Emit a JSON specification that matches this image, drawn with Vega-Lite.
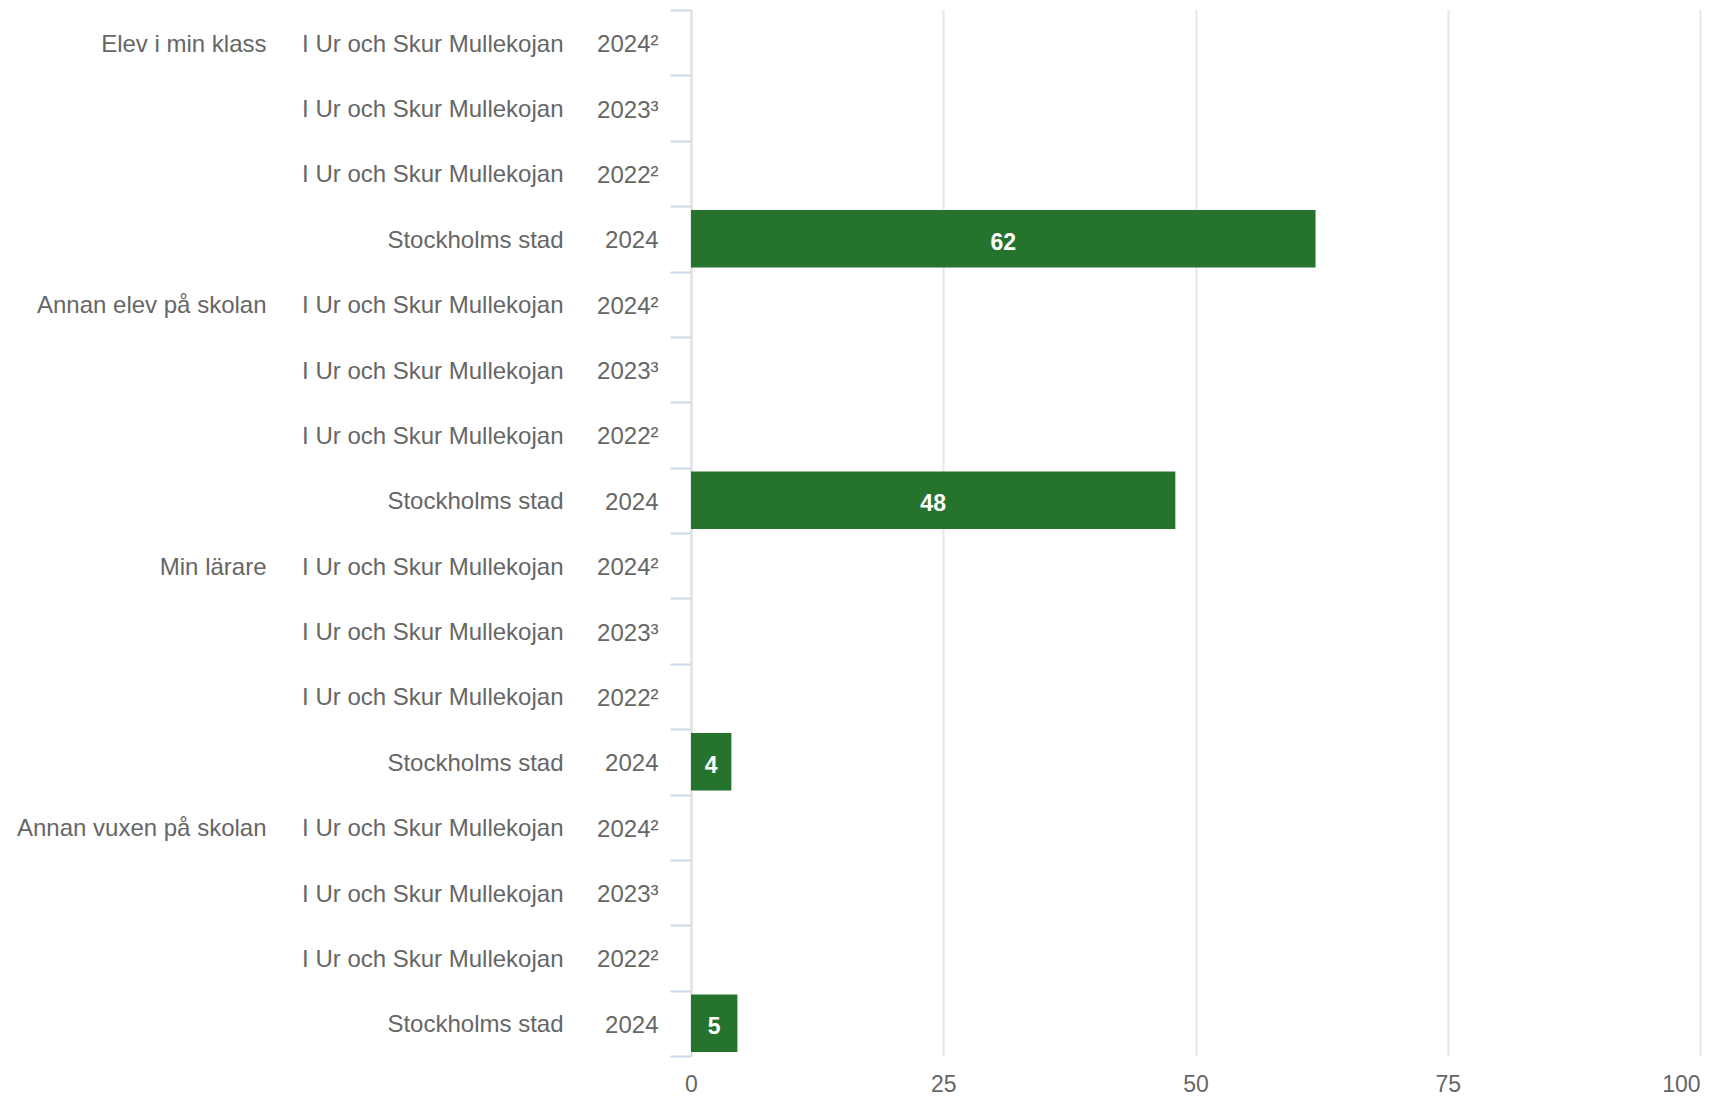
{
  "$schema": "https://vega.github.io/schema/vega-lite/v6.json",
  "width": 1009,
  "height": 1046,
  "autosize": {"type": "none"},
  "padding": {"left": 691, "top": 10, "right": 12, "bottom": 43},
  "background": "white",
  "config": {
    "font": "Liberation Sans",
    "view": {"stroke": null},
    "axis": {"labelFont": "Liberation Sans", "labelFontSize": 24, "labelColor": "#666666", "labelLimit": 600}
  },
  "data": {
    "values": [
      {"rad": "01|Elev i min klass|I Ur och Skur Mullekojan|2024²", "andel": null},
      {"rad": "02||I Ur och Skur Mullekojan|2023³", "andel": null},
      {"rad": "03||I Ur och Skur Mullekojan|2022²", "andel": null},
      {"rad": "04||Stockholms stad|2024", "andel": 61.9},
      {"rad": "05|Annan elev på skolan|I Ur och Skur Mullekojan|2024²", "andel": null},
      {"rad": "06||I Ur och Skur Mullekojan|2023³", "andel": null},
      {"rad": "07||I Ur och Skur Mullekojan|2022²", "andel": null},
      {"rad": "08||Stockholms stad|2024", "andel": 48},
      {"rad": "09|Min lärare|I Ur och Skur Mullekojan|2024²", "andel": null},
      {"rad": "10||I Ur och Skur Mullekojan|2023³", "andel": null},
      {"rad": "11||I Ur och Skur Mullekojan|2022²", "andel": null},
      {"rad": "12||Stockholms stad|2024", "andel": 4},
      {"rad": "13|Annan vuxen på skolan|I Ur och Skur Mullekojan|2024²", "andel": null},
      {"rad": "14||I Ur och Skur Mullekojan|2023³", "andel": null},
      {"rad": "15||I Ur och Skur Mullekojan|2022²", "andel": null},
      {"rad": "16||Stockholms stad|2024", "andel": 4.6}
    ]
  },
  "layer": [
    {
      "mark": {"type": "rule", "opacity": 0},
      "encoding": {
        "y": {
          "field": "rad", "type": "nominal",
          "scale": {"paddingInner": 0, "paddingOuter": 0},
          "axis": {
            "orient": "left", "title": null, "grid": false,
            "tickBand": "extent", "ticks": true, "tickSize": 21, "tickColor": "#ccd6eb", "tickWidth": 2,
            "domain": true, "domainColor": "#e0e0e0", "domainWidth": 2,
            "labelPadding": 12, "labelOffset": 2,
            "labelExpr": "split(datum.value, '|')[3]"
          }
        }
      }
    },
    {
      "mark": {"type": "bar", "color": "#26732e", "height": {"band": 0.88}},
      "encoding": {
        "x": {
          "field": "andel", "type": "quantitative",
          "scale": {"domain": [0, 100], "nice": false},
          "axis": {
            "title": null, "values": [0, 25, 50, 75, 100],
            "grid": true, "gridColor": "#e6e6e6", "gridWidth": 2,
            "domain": false, "ticks": false, "labelPadding": 17, "labelFontSize": 23,
            "labelAlign": {"expr": "datum.value == 100 ? 'right' : 'center'"}
          }
        },
        "y": {
          "field": "rad", "type": "nominal",
          "axis": {
            "orient": "left", "title": null, "grid": false,
            "ticks": false, "tickSize": 0, "domain": false,
            "labelPadding": 128, "labelOffset": 2,
            "labelExpr": "split(datum.value, '|')[2]"
          }
        }
      }
    },
    {
      "transform": [
        {"filter": "datum.andel != null"},
        {"calculate": "datum.andel / 2", "as": "mitt"}
      ],
      "mark": {"type": "text", "color": "white", "fontSize": 23, "fontWeight": "bold", "baseline": "middle", "align": "center", "dy": 4},
      "encoding": {
        "x": {
          "field": "mitt", "type": "quantitative",
          "axis": {
            "title": null, "values": [0, 25, 50, 75, 100],
            "grid": true, "gridColor": "#e6e6e6", "gridWidth": 2,
            "domain": false, "ticks": false, "labelPadding": 17, "labelFontSize": 23,
            "labelAlign": {"expr": "datum.value == 100 ? 'right' : 'center'"}
          }
        },
        "y": {
          "field": "rad", "type": "nominal",
          "axis": {
            "orient": "left", "title": null, "grid": false,
            "ticks": false, "tickSize": 0, "domain": false,
            "labelPadding": 425, "labelOffset": 2,
            "labelExpr": "split(datum.value, '|')[1]"
          }
        },
        "text": {"field": "andel", "type": "quantitative", "format": ".0f"}
      }
    }
  ],
  "resolve": {"axis": {"y": "independent"}}
}
